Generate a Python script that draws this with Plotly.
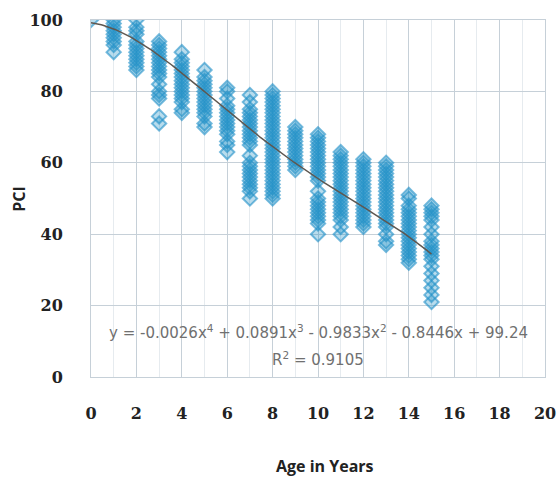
import numpy as np
import plotly.graph_objects as go

# PCI observations per pavement age (years)
age_0 = [100]
age_1 = [100, 99, 98, 97, 96, 95, 94, 93, 91]
age_2 = [100, 98, 97, 96, 94, 93, 92, 91, 90, 89, 88, 87, 86]
age_3 = [94, 93, 92, 91, 90, 89, 88, 87, 86, 85, 84, 82, 80, 79, 78, 73, 71]
age_4 = [91, 89, 88, 87, 86, 85, 84, 83, 82, 81, 80, 79, 78, 77, 75, 74]
age_5 = [86, 84, 83, 82, 81, 80, 79, 78, 77, 76, 75, 74, 73, 71, 70]
age_6 = [81, 80, 78, 76, 75, 74, 73, 72, 71, 70, 69, 68, 66, 65, 63]
age_7 = [79, 77, 75, 74, 73, 72, 71, 70, 69, 68, 67, 66, 65, 62, 60, 59, 58,
         57, 56, 55, 54, 53, 52, 50]
age_8 = [80, 79, 78, 77, 76, 75, 74, 73, 72, 71, 70, 69, 68, 67, 66, 65, 64,
         63, 62, 61, 60, 59, 58, 57, 56, 55, 54, 53, 52, 51, 50]
age_9 = [70, 69, 68, 67, 66, 65, 64, 63, 62, 61, 60, 59, 58]
age_10 = [68, 67, 66, 65, 64, 63, 62, 61, 60, 59, 58, 57, 56, 55, 52, 50, 49,
          48, 47, 46, 45, 44, 43, 40]
age_11 = [63, 62, 61, 60, 59, 58, 57, 56, 55, 54, 53, 52, 51, 50, 49, 48, 47,
          46, 45, 44, 42, 40]
age_12 = [61, 60, 59, 58, 57, 56, 55, 54, 53, 52, 51, 50, 49, 48, 47, 46, 45,
          44, 43, 42]
age_13 = [60, 59, 58, 57, 56, 55, 54, 53, 52, 51, 50, 49, 48, 47, 46, 45, 44,
          43, 42, 40, 38, 37]
age_14 = [51, 50, 48, 47, 46, 45, 44, 43, 42, 41, 40, 39, 38, 37, 36, 35, 34,
          33, 32]
age_15 = [48, 47, 46, 45, 44, 42, 40, 38, 37, 36, 35, 34, 33, 31, 29, 27, 25,
          23, 21]

pci_by_age = [age_0, age_1, age_2, age_3, age_4, age_5, age_6, age_7, age_8,
              age_9, age_10, age_11, age_12, age_13, age_14, age_15]

# Polynomial trendline coefficients shown on the chart (x^4 ... x^0)
trend_coef = [-0.0026, 0.0891, -0.9833, -0.8446, 99.24]
trend_x_range = [0, 15]

x_ticks = [0, 2, 4, 6, 8, 10, 12, 14, 16, 18, 20]
y_ticks = [0, 20, 40, 60, 80, 100]

xs, ys = [], []
for age, vals in enumerate(pci_by_age):
    xs += [age] * len(vals)
    ys += vals

tx = np.linspace(trend_x_range[0], trend_x_range[1], 200)
ty = np.polyval(trend_coef, tx)

fig = go.Figure()
fig.add_trace(go.Scatter(
    x=xs, y=ys, mode="markers",
    marker=dict(symbol="diamond", size=11,
                color="rgba(35,145,200,0.32)",
                line=dict(color="rgba(35,145,200,0.62)", width=2)),
    showlegend=False, hoverinfo="x+y"))
fig.add_trace(go.Scatter(
    x=tx, y=ty, mode="lines",
    line=dict(color="#5e5750", width=1.5),
    showlegend=False, hoverinfo="skip"))

tick_font = dict(family="DejaVu Serif", size=16, color="#222222", weight="bold")
grid_c = "#c6d0d8"

fig.update_layout(
    width=558, height=479,
    margin=dict(l=91, r=13, t=20, b=102, autoexpand=False),
    paper_bgcolor="white", plot_bgcolor="white",
    xaxis=dict(range=[0, 20], tickvals=x_ticks, ticktext=[str(v) for v in x_ticks],
               showgrid=True, gridcolor=grid_c, gridwidth=1,
               minor=dict(dtick=1, showgrid=True, gridcolor="#e6ebef"),
               zeroline=False, showline=True, linecolor=grid_c, mirror=True,
               automargin=False, ticklabeloverflow="allow",
               ticks="", tickfont=tick_font, ticklabelstandoff=22),
    yaxis=dict(range=[0, 100], tickvals=y_ticks, ticktext=[str(v) for v in y_ticks],
               showgrid=True, gridcolor=grid_c, gridwidth=1,
               zeroline=False, showline=True, linecolor=grid_c, mirror=True,
               automargin=False,
               ticks="", tickfont=tick_font, ticklabelstandoff=24),
    annotations=[
        dict(text="PCI", xref="paper", yref="paper", x=-0.16, y=0.5,
             xanchor="center", yanchor="middle", textangle=-90, showarrow=False,
             font=dict(family="Open Sans", size=16, color="#222222", weight="bold")),
        dict(text="Age in Years", xref="paper", yref="paper", x=0.515, y=-0.249,
             xanchor="center", yanchor="middle", showarrow=False,
             font=dict(family="Open Sans", size=16, color="#222222", weight="bold")),
        dict(text="y = -0.0026x<sup>4</sup> + 0.0891x<sup>3</sup> - 0.9833x<sup>2</sup> - 0.8446x + 99.24",
             xref="x", yref="y", x=10, y=12.6, xanchor="center", yanchor="middle",
             showarrow=False, font=dict(family="DejaVu Sans", size=15, color="#707070")),
        dict(text="R<sup>2</sup> = 0.9105",
             xref="x", yref="y", x=10, y=5.0, xanchor="center", yanchor="middle",
             showarrow=False, font=dict(family="DejaVu Sans", size=15, color="#707070")),
    ],
)

fig.write_html("out.html", config={"displayModeBar": False},
               post_script="document.body.style.margin='0';")
